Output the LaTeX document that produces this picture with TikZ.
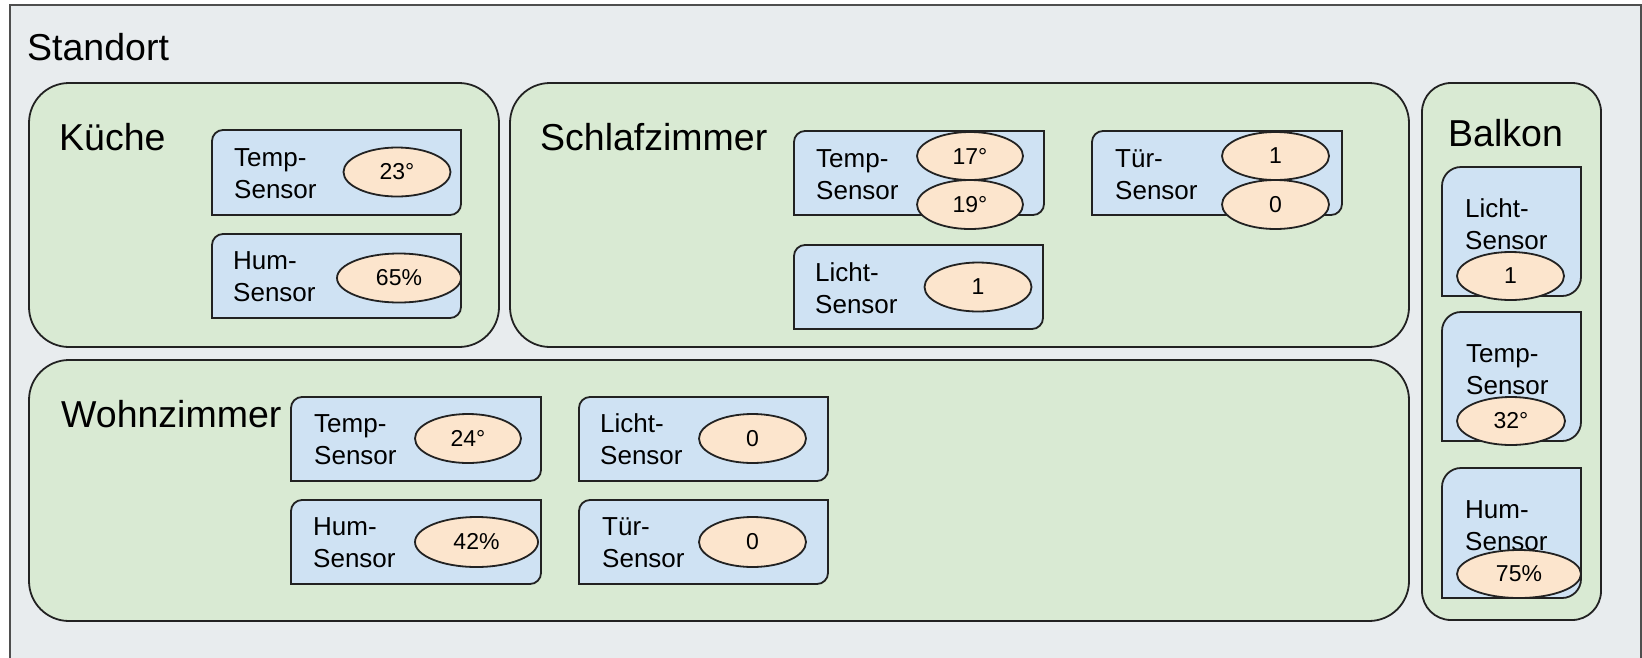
\documentclass[tikz,border=0pt]{standalone}
\usepackage{fontspec}
\setmainfont{Liberation Sans}
\usetikzlibrary{shapes.geometric}

\definecolor{framec}{HTML}{E8ECEE}
\definecolor{roomc}{HTML}{D9EAD3}
\definecolor{sensc}{HTML}{CFE2F3}
\definecolor{valc}{HTML}{FCE5CD}
\definecolor{linec}{HTML}{222222}

% sensor card: rounded top-left and bottom-right corners
% #1 x1, #2 y1, #3 x2, #4 y2, #5 corner radius
\newcommand\sensorshape[5]{%
  \draw[sensor] (#1,#4) -- (#1,#2+#5) arc[start angle=180,end angle=90,radius=#5pt]
    -- (#3,#2) -- (#3,#4-#5) arc[start angle=0,end angle=-90,radius=#5pt] -- cycle;}
% two-line caption whose first baseline is the node baseline
\newcommand\twolines[2]{\vtop{\baselineskip=32pt\hbox{#1}\hbox{#2}}}

\tikzset{
  outer/.style={draw=linec!80, fill=framec, line width=1.5pt},
  room/.style={draw=linec, fill=roomc, line width=1.8pt, rounded corners=40pt},
  sensor/.style={draw=linec, fill=sensc, line width=1.8pt},
  val/.style={ellipse, draw=linec, fill=valc, line width=1.8pt, inner sep=0pt,
    font=\fontsize{23}{27}\selectfont},
  roomlabel/.style={anchor=base west, inner sep=0pt, font=\fontsize{37.5}{42}\selectfont},
  slabel/.style={anchor=base west, inner sep=0pt, font=\fontsize{26}{32}\selectfont},
}

\begin{document}
\begin{tikzpicture}[x=1pt,y=-1pt]
\useasboundingbox (0,0) rectangle (1642,657);

% site frame
\draw[outer] (10,5) rectangle (1641,680);
\node[roomlabel] (standort) at (27,60) {Standort};

% rooms
\draw[room] (29,83) rectangle (499,347);
\draw[room] (510,83) rectangle (1409,347);
\draw[room] (29,360) rectangle (1409,621);
\draw[room, rounded corners=29pt] (1422,83) rectangle (1601,620);

\node[roomlabel] (kueche) at (59,150) {Küche};
\node[roomlabel] (schlaf) at (540,150) {Schlafzimmer};
\node[roomlabel] (wohn) at (61,427) {Wohnzimmer};
\node[roomlabel] (balkon) at (1448,146) {Balkon};

% Küche
\sensorshape{212}{130}{461}{215}{11}
\node[slabel] (k-temp) at (234,166) {\twolines{Temp-}{Sensor}};
\node[val, minimum width=107pt, minimum height=49pt] (k-temp-v) at (397,172) {23°};
\sensorshape{212}{234}{461}{318}{11}
\node[slabel] (k-hum) at (233,269) {\twolines{Hum-}{Sensor}};
\node[val, minimum width=124pt, minimum height=49pt] (k-hum-v) at (399,278) {65\%};

% Schlafzimmer
\sensorshape{794}{131}{1044}{215}{11}
\node[slabel] (s-temp) at (816,167) {\twolines{Temp-}{Sensor}};
\node[val, minimum width=106pt, minimum height=48pt] (s-temp-v1) at (970,156) {17°};
\node[val, minimum width=106pt, minimum height=49pt] (s-temp-v2) at (970,204.5) {19°};
\sensorshape{794}{245}{1043}{329}{11}
\node[slabel] (s-licht) at (815,281) {\twolines{Licht-}{Sensor}};
\node[val, minimum width=107pt, minimum height=49pt] (s-licht-v) at (978,287) {1};
\sensorshape{1092}{131}{1342}{215}{11}
\node[slabel] (s-tuer) at (1115,167) {\twolines{Tür-}{Sensor}};
\node[val, minimum width=107pt, minimum height=48pt] (s-tuer-v1) at (1275.5,156) {1};
\node[val, minimum width=107pt, minimum height=49pt] (s-tuer-v2) at (1275.5,204.5) {0};

% Wohnzimmer
\sensorshape{291}{397}{541}{481}{11}
\node[slabel] (w-temp) at (314,432) {\twolines{Temp-}{Sensor}};
\node[val, minimum width=106pt, minimum height=49pt] (w-temp-v) at (468,438.5) {24°};
\sensorshape{291}{500}{541}{584}{11}
\node[slabel] (w-hum) at (313,535) {\twolines{Hum-}{Sensor}};
\node[val, minimum width=123pt, minimum height=50pt] (w-hum-v) at (476.5,542) {42\%};
\sensorshape{579}{397}{828}{481}{11}
\node[slabel] (w-licht) at (600,432) {\twolines{Licht-}{Sensor}};
\node[val, minimum width=107pt, minimum height=49pt] (w-licht-v) at (752.5,438.5) {0};
\sensorshape{579}{500}{828}{584}{11}
\node[slabel] (w-tuer) at (602,535) {\twolines{Tür-}{Sensor}};
\node[val, minimum width=107pt, minimum height=50pt] (w-tuer-v) at (752.5,542) {0};

% Balkon
\sensorshape{1442}{167}{1581}{296}{19}
\node[slabel] (b-licht) at (1465,217) {\twolines{Licht-}{Sensor}};
\node[val, minimum width=107pt, minimum height=48pt] (b-licht-v) at (1510.5,276) {1};
\sensorshape{1442}{312}{1581}{441}{19}
\node[slabel] (b-temp) at (1466,362) {\twolines{Temp-}{Sensor}};
\node[val, minimum width=108pt, minimum height=48pt] (b-temp-v) at (1511,421) {32°};
\sensorshape{1442}{468}{1581}{598}{19}
\node[slabel] (b-hum) at (1465,518) {\twolines{Hum-}{Sensor}};
\node[val, minimum width=124pt, minimum height=48pt] (b-hum-v) at (1519,574) {75\%};
\end{tikzpicture}
\end{document}
